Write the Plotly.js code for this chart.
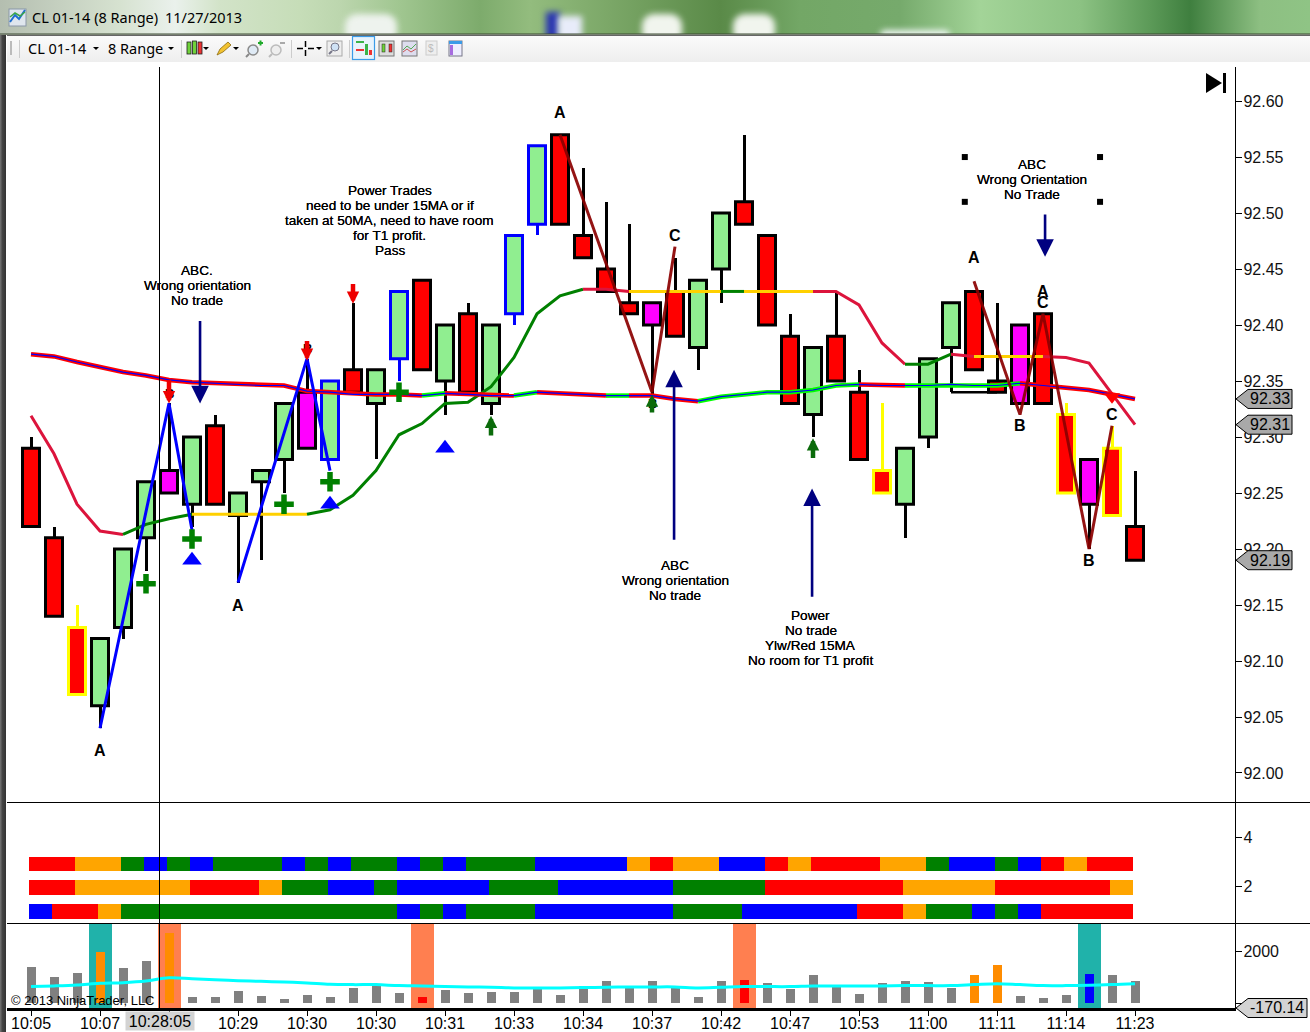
<!DOCTYPE html>
<html><head><meta charset="utf-8">
<script src="https://cdn.plot.ly/plotly-3.0.1.min.js"></script>
<style>
html,body{margin:0;padding:0;background:#fff;width:1310px;height:1032px;overflow:hidden;font-family:"Noto Sans","Liberation Sans",sans-serif}
#title{position:absolute;left:0;top:0;width:1310px;height:34px;overflow:hidden;
background:linear-gradient(90deg,#b4beb0 0,#d6e2d0 120px,#eaf1ec 175px,#d2e3c8 220px,#c6ddb8 300px,#bcd6ae 340px,#a0c690 400px,#7dab6c 480px,#93bc7e 530px,#5a8a48 720px,#73a766 800px,#76aa6c 900px,#a3d498 980px,#8cc283 1080px,#5c9a58 1150px,#3f7f3f 1190px,#8dbf82 1260px,#8fc485 1310px)}
.blob{position:absolute;filter:blur(3px)}
#tb{position:absolute;left:7px;top:35px;width:1303px;height:27px;background:linear-gradient(180deg,#fbfbfb,#eeeeee);border-top:1px solid #666;box-sizing:border-box}
#frame{position:absolute;left:0;top:35px;width:6px;height:997px;background:linear-gradient(90deg,#777,#444 40%,#333)}
#plot{position:absolute;left:0;top:0;width:1310px;height:1032px}
#chrome{position:absolute;left:0;top:0;pointer-events:none}
</style></head><body>
<div id="plot"></div>
<div id="title">
 <div class="blob" style="left:345px;top:14px;width:52px;height:30px;background:#eef3ee;border-radius:12px"></div>
 <div class="blob" style="left:546px;top:12px;width:14px;height:30px;background:#2a35b0"></div>
 <div class="blob" style="left:558px;top:16px;width:24px;height:26px;background:#e8ecfa"></div>
 <div class="blob" style="left:642px;top:14px;width:40px;height:30px;background:#f1f5ee;border-radius:12px"></div>
 <div class="blob" style="left:733px;top:14px;width:42px;height:30px;background:#f1f5ee;border-radius:12px"></div>
 <div class="blob" style="left:880px;top:30px;width:70px;height:10px;background:#eef6f2;border-radius:10px"></div>
</div>
<div id="tb"></div>
<div id="frame"></div>
<svg id="chrome" width="1310" height="100" xmlns="http://www.w3.org/2000/svg">
 <rect x="0" y="33.5" width="1310" height="1.2" fill="#3c4a34"/>
 <rect x="9" y="9" width="17" height="17" fill="#dfe6ee" stroke="#8a97a8"/>
 <path d="M10 22L15 15L19 19L25 10" stroke="#1f6fd0" stroke-width="2" fill="none"/>
 <path d="M10 17L15 13L20 16L25 12" stroke="#3aa648" stroke-width="1.5" fill="none"/>
 <text x="32" y="23" font-family="Noto Sans" font-size="14.5" fill="#000">CL 01-14 (8 Range)</text>
 <text x="165" y="23" font-family="Noto Sans" font-size="14.5" fill="#000">11/27/2013</text>
 <rect x="10" y="41" width="2" height="14" fill="#bbb"/><rect x="19" y="40" width="1" height="18" fill="#ccc"/>
 <text x="28" y="54" font-family="Noto Sans" font-size="14.5" fill="#000">CL 01-14</text>
 <path d="M93 47h6l-3 3z" fill="#000"/>
 <text x="108" y="54" font-family="Noto Sans" font-size="14.5" fill="#000">8 Range</text>
 <path d="M168 47h6l-3 3z" fill="#000"/>
 <rect x="181" y="40" width="1" height="18" fill="#ccc"/>
 <g stroke="#222" stroke-width="0.8">
  <rect x="187" y="42" width="4" height="12" fill="#6fd23a"/><rect x="192.5" y="41" width="4" height="13" fill="#6fd23a"/><rect x="198" y="42" width="4" height="12" fill="#e33"/>
 </g>
 <path d="M203 47h6l-3 3z" fill="#000"/>
 <path d="M217 55l3-6 8-7 3 3-8 7z" fill="#f2c230" stroke="#8a6a10" stroke-width="0.8"/>
 <path d="M233 47h6l-3 3z" fill="#000"/>
 <circle cx="253" cy="50" r="5" fill="#dfeaf5" stroke="#8a8a8a" stroke-width="1.5"/><path d="M249 54l-3 3" stroke="#888" stroke-width="2"/>
 <path d="M258 43h5M260.5 40.5v5" stroke="#1faa2a" stroke-width="2"/>
 <circle cx="276" cy="50" r="5" fill="#eee" stroke="#bbb" stroke-width="1.5"/><path d="M272 54l-3 3" stroke="#bbb" stroke-width="2"/>
 <path d="M280 43h5" stroke="#aaa" stroke-width="2"/>
 <rect x="291" y="40" width="1" height="18" fill="#ccc"/>
 <path d="M297 48.5h6M308 48.5h6M305.5 41v6M305.5 50v6" stroke="#000" stroke-width="1.5"/>
 <path d="M316 47h6l-3 3z" fill="#000"/>
 <rect x="327" y="41" width="15" height="15" fill="#eee" stroke="#aaa"/><circle cx="335" cy="47" r="4" fill="#cfe2f5" stroke="#778" /><path d="M332 51l-3 3" stroke="#778" stroke-width="2"/>
 <rect x="349" y="40" width="1" height="18" fill="#ccc"/>
 <rect x="352.5" y="36.5" width="22" height="23" fill="#e8f3fc" stroke="#3a9be8" stroke-width="1.2"/>
 <path d="M356 41h8v2h-8z" fill="#3bb34a"/><rect x="356" y="49" width="8" height="2" fill="#e33"/><rect x="365" y="44" width="3" height="11" fill="#3bb34a"/><rect x="369" y="50" width="3" height="5" fill="#e33"/>
 <rect x="379" y="41" width="15" height="15" fill="#ddd" stroke="#777"/><rect x="382" y="44" width="3" height="8" fill="#6fd23a" stroke="#222" stroke-width=".5"/><rect x="389" y="44" width="3" height="8" fill="#e33" stroke="#222" stroke-width=".5"/>
 <rect x="402" y="41" width="15" height="15" fill="#dde" stroke="#777"/><path d="M403 50l4-4 4 3 5-5" stroke="#5a5" fill="none"/><path d="M403 52l4-3 4 3 5-3" stroke="#c55" fill="none"/>
 <rect x="426" y="41" width="11" height="14" fill="#eee" stroke="#ccc"/><text x="428" y="52" font-size="10" font-family="Liberation Sans" fill="#bbb">$</text>
 <rect x="449" y="41" width="13" height="15" fill="#eef" stroke="#778"/><rect x="449" y="41" width="13" height="3" fill="#3a9be8"/><rect x="450" y="45" width="3" height="10" fill="#a66be0"/>
 <path d="M1206 73L1222 83L1206 93Z" fill="#000"/><rect x="1223" y="73" width="3" height="20" fill="#000"/>
</svg>
<script>
// ---- price bars (one entry per bar) ----
const barIndex=[0,1,2,3,4,5,6,7,8,9,10,11,12,13,14,15,16,17,18,19,20,21,22,23,24,25,26,27,28,29,30,31,32,33,34,35,36,37,38,39,40,41,42,43,44,45,46,47,48];
const openP =[92.29,92.21,92.13,92.06,92.13,92.21,92.27,92.24,92.31,92.23,92.26,92.28,92.34,92.28,92.36,92.33,92.37,92.44,92.35,92.41,92.33,92.41,92.49,92.57,92.48,92.45,92.42,92.42,92.43,92.38,92.45,92.51,92.48,92.39,92.32,92.39,92.34,92.27,92.24,92.30,92.38,92.43,92.35,92.40,92.41,92.32,92.28,92.29,92.22];
const highP =[92.30,92.22,92.15,92.12,92.20,92.26,92.33,92.30,92.32,92.25,92.27,92.33,92.37,92.35,92.42,92.36,92.43,92.44,92.40,92.42,92.40,92.48,92.56,92.57,92.54,92.51,92.49,92.42,92.46,92.44,92.50,92.57,92.48,92.41,92.38,92.43,92.36,92.33,92.29,92.37,92.42,92.43,92.42,92.40,92.41,92.33,92.28,92.31,92.27];
const lowP  =[92.22,92.14,92.07,92.04,92.12,92.18,92.25,92.22,92.24,92.17,92.19,92.25,92.29,92.28,92.34,92.28,92.35,92.36,92.32,92.34,92.32,92.40,92.48,92.49,92.46,92.43,92.41,92.33,92.39,92.36,92.42,92.49,92.40,92.33,92.30,92.35,92.28,92.25,92.21,92.29,92.34,92.36,92.34,92.33,92.33,92.25,92.20,92.23,92.19];
const closeP=[92.22,92.14,92.07,92.12,92.20,92.26,92.25,92.30,92.24,92.25,92.27,92.33,92.29,92.35,92.34,92.36,92.43,92.36,92.40,92.34,92.40,92.48,92.56,92.49,92.46,92.43,92.41,92.40,92.39,92.44,92.50,92.49,92.40,92.33,92.38,92.35,92.28,92.25,92.29,92.37,92.42,92.36,92.34,92.33,92.33,92.25,92.24,92.23,92.19];
const bodyFill="RRRGGGMGRGGGMGRGGRGRGGGRRRRMRGGRRRGRRRGGGRRMRRMRR";
const bodyEdge="KKYKKKKKKKKKKBKKBKKKKBBKKKKKKKKKKKKKKYKKKKKKKYKYK";
// ---- moving averages ----
const slowMA=[92.374,92.372,92.367,92.3625,92.358,92.355,92.351,92.349,92.348,92.347,92.346,92.346,92.341,92.340,92.338,92.338,92.338,92.337,92.339,92.338,92.337,92.337,92.340,92.339,92.338,92.337,92.337,92.337,92.334,92.332,92.336,92.338,92.340,92.340,92.342,92.346,92.347,92.346,92.346,92.346,92.347,92.346,92.346,92.348,92.346,92.344,92.342,92.338,92.334];
const fastMA=[92.319,92.285,92.240,92.216,92.213,92.222,92.227,92.231,92.231,92.231,92.231,92.231,92.231,92.235,92.248,92.270,92.302,92.312,92.330,92.331,92.345,92.371,92.410,92.426,92.432,92.432,92.430,92.430,92.430,92.430,92.430,92.430,92.430,92.430,92.430,92.430,92.418,92.384,92.365,92.365,92.374,92.372,92.372,92.372,92.372,92.371,92.366,92.339,92.311];
const slowRuns=[[0,17,'#ff0000'],[17,18,'#00ff00'],[18,21,'#ff0000'],[21,22,'#00ff00'],[22,25,'#ff0000'],[25,26,'#00ff00'],[26,29,'#ff0000'],[29,36,'#00ff00'],[36,38,'#ff0000'],[38,43,'#00ff00'],[43,48,'#ff0000']];
const fastRuns=[[0,4,'#dc143c'],[4,7,'#008000'],[7,12,'#ffd000'],[12,24,'#008000'],[24,26,'#dc143c'],[26,30,'#ffd000'],[30,31,'#008000'],[31,34,'#ffd000'],[34,38,'#dc143c'],[38,40,'#008000'],[40,41,'#dc143c'],[41,44,'#ffd000'],[44,48,'#dc143c']];
// ---- ABC swing lines ----
const blueSwingX=[3,6,7,null,9,12,13];
const blueSwingY=[92.04,92.33,92.217,null,92.17,92.37,92.27];
const brownSwingX=[23,27,28,null,41,43,44,46,47];
const brownSwingY=[92.57,92.34,92.47,null,92.439,92.32,92.41,92.20,92.31];
const flatLineX=[40,42]; const flatLineY=[92.34,92.34];
// ---- markers ----
const crossX=[5,7,11,13,16]; const crossY=[92.169,92.209,92.240,92.260,92.340];
const triX=[7,13,18]; const triY=[92.190,92.240,92.290];
const handleX=[40.6,46.48,40.6,46.48]; const handleY=[92.550,92.550,92.510,92.510];
const redMarkX=[47]; const redMarkY=[92.336];
// ---- arrows [x, tailPrice, tipPrice] ----
const navyArrows=[[7.35,92.405,92.330],[27.96,92.207,92.360],[33.96,92.156,92.254],[44.09,92.50,92.461]];
const redArrows=[[6,92.352,92.330],[12,92.387,92.368],[14,92.438,92.419]];
const greenArrows=[[20,92.300,92.319],[27,92.3205,92.338],[34,92.280,92.299]];
// ---- letters and notes ----
const letters=[['A',3,92.020],['A',9,92.150],['A',23,92.590],['C',28,92.480],['A',41,92.460],['B',43,92.310],['A',44,92.430],['C',44,92.420],['B',46,92.190],['C',47,92.320]];
const smallLetters=[['B',6,92.339],['B',12,92.379],['B',27,92.33]];
const notes=[
 {x:7.22,y:92.449,lines:['ABC.','Wrong orientation','No trade']},
 {x:15.6,y:92.520,lines:['Power Trades','need to be under 15MA or if','taken at 50MA, need to have room','for T1 profit.','Pass']},
 {x:28,y:92.185,lines:['ABC','Wrong orientation','No trade']},
 {x:33.9,y:92.141,lines:['Power','No trade','Ylw/Red 15MA','No room for T1 profit']},
 {x:43.52,y:92.543,lines:['ABC','Wrong Orientation','No Trade']}
];
// ---- state rows in the middle panel, one letter per cell ----
const rowTop="RROOGBGBGGGBGBGGBGBGGGBBBBOROOBBRORRROOGBBGBRORR";
const rowMid="RROOOOORRROGGBBGBBBBGGGBBBBBGGGGRRRRRROOOORRRRRO";
const rowLow="BRROGGGGGGGGGGGGBGBGGGBBBBBBGGGBBBBBRROGGBGBRRRR";
const rowLevels=[2.9,1.95,0.95];
// ---- volume panel ----
const volume=[1410,1026,1180,1987,1372,1641,2730,218,218,487,256,141,295,218,603,680,410,218,526,410,449,449,641,295,680,872,680,872,680,218,872,910,795,564,1103,718,372,795,872,833,603,1103,1487,256,180,333,1141,1103,872];
const volumeMA=[641,667,705,769,795,859,987,949,910,872,846,820,782,731,718,718,679,667,641,628,615,590,590,590,603,615,628,628,628,590,615,641,641,641,667,667,667,667,679,679,679,718,756,718,679,679,692,718,756];
const volColorKey="NNNONNONNNNNNNNNNRNNNNNNNNNNNNNRNNNNNNNNNOONNNBNN";
const bandX=[3,6,17,31,46];
const bandColor=['#20b2aa','#ff7f50','#ff7f50','#ff7f50','#20b2aa'];
// ---- axes text ----
const xTickVals=[0,3,6,9,12,15,18,21,24,27,30,33,36,39,42,45,48];
const xTickText=['10:05','10:07','','10:29','10:30','10:30','10:31','10:33','10:34','10:37','10:42','10:47','10:53','11:00','11:11','11:14','11:23'];
const priceTicks=[92.00,92.05,92.10,92.15,92.20,92.25,92.30,92.35,92.40,92.45,92.50,92.55,92.60];
const tagValues=[92.334,92.311,92.19]; const tagLabels=['92.33','92.31','92.19'];
const cursorX=5.587; const cursorLabel='10:28:05';
const copyright='\u00a9 2013 NinjaTrader, LLC';

const FONT='"Liberation Sans",Arial,sans-serif';
const W=1310,H=1032;
const PRICE_RANGE=[91.9741,92.6304];
const fillMap={R:'#ff0000',G:'#90ee90',M:'#ff00ff'};
const edgeMap={K:'#000000',Y:'#ffff00',B:'#0000ff'};
const cellMap={R:'#ff0000',O:'#ffa500',G:'#008000',B:'#0000ff'};
const volMap={N:'#808080',O:'#ff8c00',R:'#ff0000',B:'#0000ff'};

const traces=[];
traces.push({type:'bar',x:barIndex,base:lowP,y:highP.map((h,i)=>h-lowP[i]),width:3/23,
 marker:{color:[...bodyEdge].map(c=>edgeMap[c]),line:{width:0}},xaxis:'x',yaxis:'y',hoverinfo:'skip'});
traces.push({type:'bar',x:barIndex,base:openP.map((o,i)=>Math.min(o,closeP[i])),y:openP.map((o,i)=>Math.abs(o-closeP[i])),width:17/23,
 marker:{color:[...bodyFill].map(c=>fillMap[c]),line:{width:3,color:[...bodyEdge].map(c=>edgeMap[c])}},xaxis:'x',yaxis:'y',hoverinfo:'skip'});
function segs(vals,runs,width){runs.forEach(r=>{const xs=[],ys=[];for(let i=r[0];i<=r[1];i++){xs.push(i);ys.push(vals[i]);}
 traces.push({type:'scatter',mode:'lines',x:xs,y:ys,line:{color:r[2],width:width},xaxis:'x',yaxis:'y',hoverinfo:'skip'});});}
segs(fastMA,fastRuns,3);
segs(slowMA,slowRuns,4.5);
traces.push({type:'scatter',mode:'lines',x:barIndex,y:slowMA,line:{color:'#0000ff',width:1.2},xaxis:'x',yaxis:'y',hoverinfo:'skip'});
traces.push({type:'scatter',mode:'lines',x:flatLineX,y:flatLineY,line:{color:'#000',width:2.5},xaxis:'x',yaxis:'y',hoverinfo:'skip'});
traces.push({type:'scatter',mode:'lines',x:blueSwingX,y:blueSwingY,line:{color:'#0000ff',width:3},connectgaps:false,xaxis:'x',yaxis:'y',hoverinfo:'skip'});
traces.push({type:'scatter',mode:'lines',x:brownSwingX,y:brownSwingY,line:{color:'#8b0000',width:3},opacity:0.92,connectgaps:false,xaxis:'x',yaxis:'y',hoverinfo:'skip'});
traces.push({type:'scatter',mode:'markers',x:triX,y:triY,marker:{symbol:'triangle-up',size:17,color:'#0000ff',line:{width:0}},xaxis:'x',yaxis:'y',hoverinfo:'skip'});
traces.push({type:'scatter',mode:'markers',x:crossX,y:crossY,marker:{symbol:'cross-thin',size:14,color:'#008000',line:{color:'#008000',width:5.5}},xaxis:'x',yaxis:'y',hoverinfo:'skip'});
traces.push({type:'scatter',mode:'markers',x:redMarkX,y:redMarkY,marker:{symbol:'triangle-down',size:14,color:'#ff0000',line:{width:0}},xaxis:'x',yaxis:'y',hoverinfo:'skip'});
traces.push({type:'scatter',mode:'markers',x:handleX,y:handleY,marker:{symbol:'square',size:6,color:'#000',line:{width:0}},xaxis:'x',yaxis:'y',hoverinfo:'skip'});
[rowTop,rowMid,rowLow].forEach((row,r)=>{
 traces.push({type:'bar',x:[...row].map((c,i)=>i+0.413),base:[...row].map(()=>rowLevels[r]-0.3),y:[...row].map(()=>0.6),width:1.0,
  marker:{color:[...row].map(c=>cellMap[c]),line:{width:0}},xaxis:'x',yaxis:'y2',hoverinfo:'skip'});
});
traces.push({type:'bar',x:bandX,base:bandX.map(()=>-192),y:bandX.map(()=>3269),width:1.0,marker:{color:bandColor,line:{width:0}},xaxis:'x',yaxis:'y3',hoverinfo:'skip'});
traces.push({type:'bar',x:barIndex,y:volume,width:9/23,marker:{color:[...volColorKey].map(c=>volMap[c]),line:{width:0}},xaxis:'x',yaxis:'y3',hoverinfo:'skip'});
traces.push({type:'scatter',mode:'lines',x:barIndex,y:volumeMA,line:{color:'#00ffff',width:3,shape:'spline'},xaxis:'x',yaxis:'y3',hoverinfo:'skip'});

const ann=[];
function arrowAnn(a,size,width,color){ann.push({x:a[0],y:a[2],ax:a[0],ay:a[1],xref:'x',yref:'y',axref:'x',ayref:'y',text:'',showarrow:true,arrowhead:2,arrowsize:size,arrowwidth:width,arrowcolor:color,standoff:0});}
smallLetters.forEach(l=>ann.push({x:l[1],y:l[2],xref:'x',yref:'y',text:l[0],showarrow:false,font:{family:FONT,size:13,color:'#000',weight:700}}));
navyArrows.forEach(a=>arrowAnn(a,1.35,2.6,'#000080'));
redArrows.forEach(a=>arrowAnn(a,0.55,4.5,'#ee0000'));
greenArrows.forEach(a=>arrowAnn(a,0.55,4.5,'#0b6b0b'));
letters.forEach(l=>ann.push({x:l[1],y:l[2],xref:'x',yref:'y',text:l[0],showarrow:false,font:{family:FONT,size:16,color:'#000',weight:700}}));
notes.forEach(n=>n.lines.forEach((t,i)=>ann.push({x:n.x,y:n.y-i*15/1120,xref:'x',yref:'y',text:t,showarrow:false,font:{family:FONT,size:13.6,color:'#000',shadow:'0 0 0.6px #000'}})));
ann.push({x:cursorX,yref:'paper',y:1-1021/H,yanchor:'middle',xref:'x',text:cursorLabel,showarrow:false,bgcolor:'#d3d3d3',borderpad:0,width:68,height:18,font:{family:FONT,size:16,color:'#000'}});
ann.push({xref:'paper',x:10/W,xanchor:'left',yref:'paper',y:1-1000/H,yanchor:'middle',text:copyright,showarrow:false,font:{family:FONT,size:13,color:'#000'},borderpad:0});
const tagAnchor=1236/W;
const shapes=[];
const tagPath='M0,0 L12,9.5 L56,9.5 L56,-9.5 L12,-9.5 Z';
const priceDomain=[1-802/H,1-67/H];
const priceToPaper=v=>priceDomain[0]+(v-PRICE_RANGE[0])/(PRICE_RANGE[1]-PRICE_RANGE[0])*(priceDomain[1]-priceDomain[0]);
tagValues.forEach((v,i)=>{
 shapes.push({type:'path',xref:'paper',yref:'paper',xsizemode:'pixel',ysizemode:'pixel',xanchor:tagAnchor,yanchor:priceToPaper(v),path:tagPath,fillcolor:'#a9a9a9',line:{color:'#000',width:1},layer:'above'});
 ann.push({xref:'paper',x:1270/W,xanchor:'center',yref:'paper',y:priceToPaper(v),yanchor:'middle',text:tagLabels[i],showarrow:false,font:{family:FONT,size:16,color:'#000'}});
});
shapes.push({type:'path',xref:'paper',yref:'paper',xsizemode:'pixel',ysizemode:'pixel',xanchor:tagAnchor,yanchor:1-1008/H,path:'M0,0 L12,9.5 L71,9.5 L71,-9.5 L12,-9.5 Z',fillcolor:'#d3d3d3',line:{color:'#000',width:1},layer:'above'});
ann.push({xref:'paper',x:1277/W,xanchor:'center',yref:'paper',y:1-1007/H,yanchor:'middle',text:'-170.14',showarrow:false,font:{family:FONT,size:16,color:'#000'}});
[802.5,923.5].forEach(py=>shapes.push({type:'line',xref:'paper',yref:'paper',x0:7/W,x1:1,y0:1-py/H,y1:1-py/H,line:{color:'#000',width:1.2},layer:'above'}));
shapes.push({type:'line',xref:'x',yref:'paper',x0:cursorX,x1:cursorX,y0:1-1008/H,y1:1-67/H,line:{color:'#000',width:1},layer:'above'});

const yCommon={side:'right',anchor:'x',showgrid:false,zeroline:false,showline:true,linecolor:'#000',linewidth:1.2,ticks:'outside',ticklen:6,tickcolor:'#000',tickmode:'array',ticklabelstandoff:-2,tickfont:{family:FONT,size:16,color:'#111'}};
const layout={width:W,height:H,margin:{l:0,r:0,t:0,b:0},paper_bgcolor:'#ffffff',plot_bgcolor:'#ffffff',showlegend:false,barmode:'overlay',bargap:0,
 xaxis:{domain:[7/W,1235/W],range:[-1.0435,52.348],anchor:'y3',showgrid:false,zeroline:false,showline:true,linecolor:'#000',linewidth:3,ticks:'outside',ticklen:5,tickcolor:'#000',tickwidth:1,tickmode:'array',tickvals:xTickVals,ticktext:xTickText,ticklabelstandoff:-6,tickfont:{family:FONT,size:16,color:'#000'},tickangle:0},
 yaxis:Object.assign({},yCommon,{domain:priceDomain,range:PRICE_RANGE,tickvals:priceTicks,ticktext:priceTicks.map(v=>v.toFixed(2))}),
 yaxis2:Object.assign({},yCommon,{domain:[1-923/H,1-803/H],range:[0.49,5.388],tickvals:[2,4],ticktext:['2','4']}),
 yaxis3:Object.assign({},yCommon,{domain:[1-1008/H,1-924/H],range:[-192,3077],tickvals:[0,2000],ticktext:['','2000']}),
 annotations:ann,shapes:shapes};
Plotly.newPlot('plot',traces,layout,{displayModeBar:false,staticPlot:true});
</script>
</body></html>
